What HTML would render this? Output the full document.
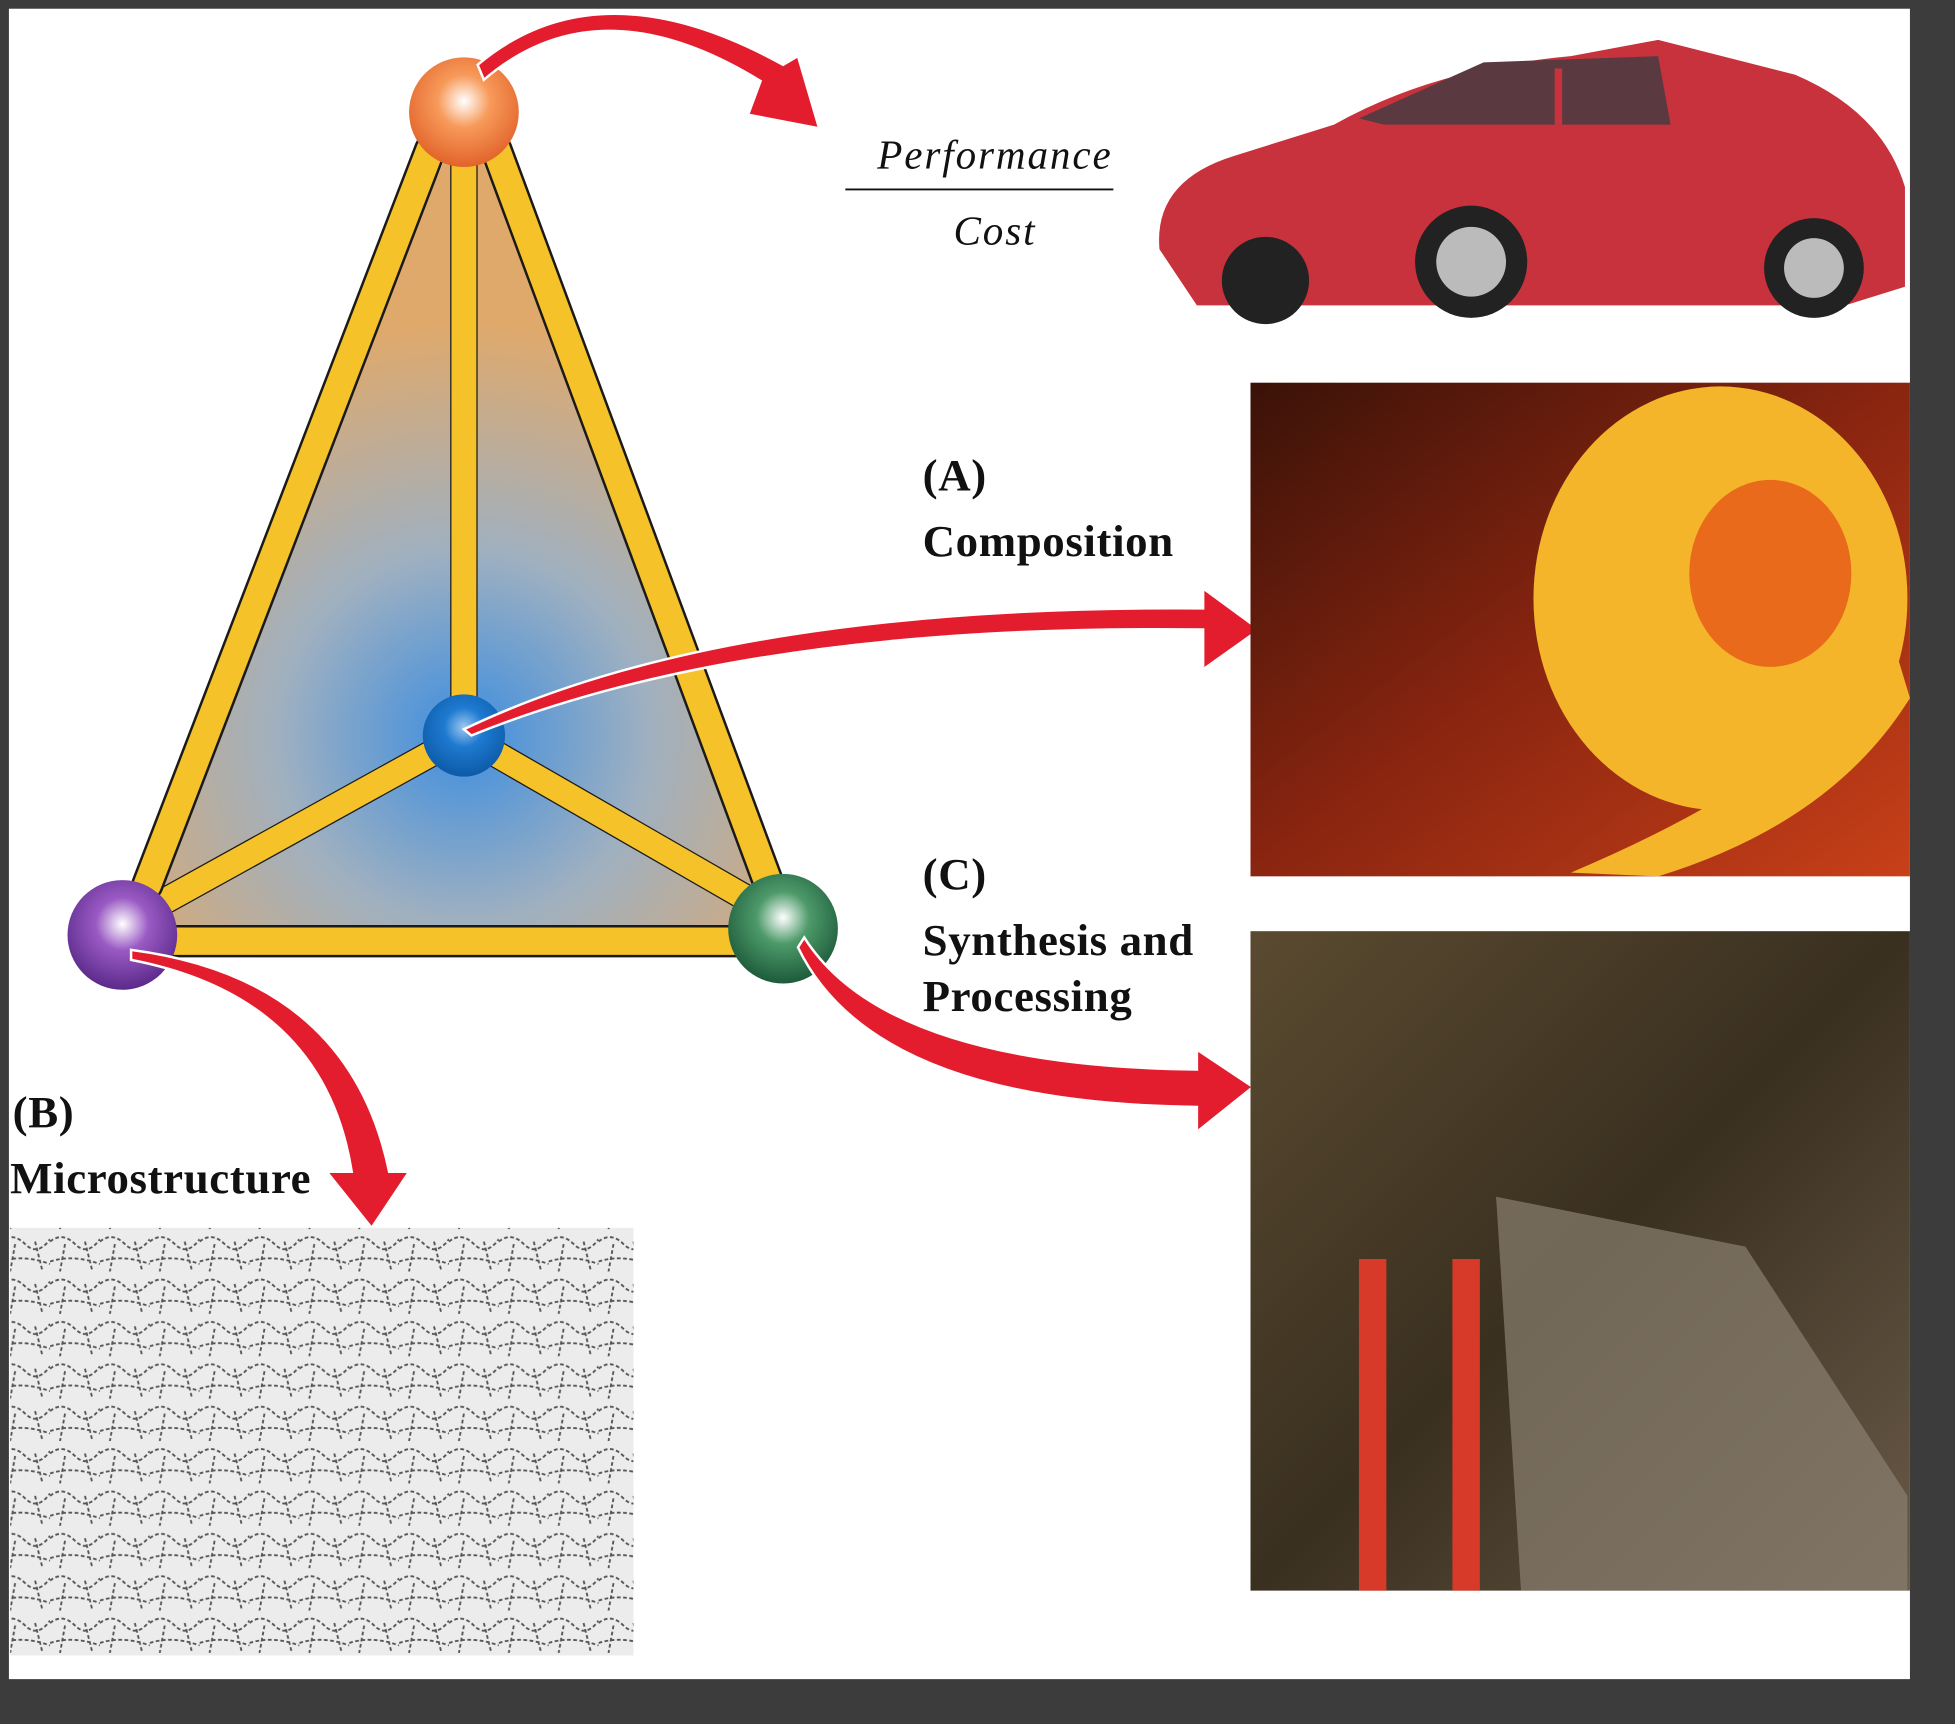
<!DOCTYPE html>
<html><head><meta charset="utf-8"><style>
html,body{margin:0;padding:0;background:#3c3c3c;}
svg{display:block}
</style></head><body>
<svg width="1955" height="1724" viewBox="0 0 1568 1383" xmlns="http://www.w3.org/2000/svg">
<defs>
<radialGradient id="tri" cx="372" cy="590" r="330" gradientUnits="userSpaceOnUse">
<stop offset="0" stop-color="#3d8ee0"/><stop offset="0.45" stop-color="#9fb0c0"/><stop offset="1" stop-color="#dfa96c"/></radialGradient>
<radialGradient id="org" cx="0.5" cy="0.4" r="0.6"><stop offset="0" stop-color="#fff"/><stop offset="0.4" stop-color="#f79a5a"/><stop offset="1" stop-color="#e2632a"/></radialGradient>
<radialGradient id="blu" cx="0.5" cy="0.4" r="0.6"><stop offset="0" stop-color="#9cc8f0"/><stop offset="0.4" stop-color="#1e7ad0"/><stop offset="1" stop-color="#0d5aa8"/></radialGradient>
<radialGradient id="pur" cx="0.5" cy="0.4" r="0.6"><stop offset="0" stop-color="#fff"/><stop offset="0.4" stop-color="#9a5ac4"/><stop offset="1" stop-color="#5a2a8a"/></radialGradient>
<radialGradient id="grn" cx="0.5" cy="0.4" r="0.6"><stop offset="0" stop-color="#fff"/><stop offset="0.4" stop-color="#4d9a6a"/><stop offset="1" stop-color="#1d5a3a"/></radialGradient>
<linearGradient id="coil" x1="0" y1="0" x2="1" y2="1"><stop offset="0" stop-color="#3a1208"/><stop offset="0.5" stop-color="#8a2510"/><stop offset="1" stop-color="#c84018"/></linearGradient>
<linearGradient id="fac" x1="0" y1="0" x2="1" y2="1"><stop offset="0" stop-color="#5a4a30"/><stop offset="0.5" stop-color="#3a3020"/><stop offset="1" stop-color="#6a5a48"/></linearGradient>
<pattern id="micro" width="40" height="34" patternUnits="userSpaceOnUse">
<rect width="40" height="34" fill="#ececec"/>
<path d="M0 10 Q10 2 20 12 T40 8 M12 12 L8 34 M28 10 L34 34 M0 26 Q18 20 40 28" stroke="#555" stroke-width="1.5" fill="none" stroke-dasharray="3 2"/>
</pattern>
</defs>
<rect x="0" y="0" width="1568" height="1383" fill="#3c3c3c"/>
<rect x="7" y="7" width="1525" height="1340" fill="#fff"/>

<polygon points="372,90 98,750 628,745" fill="url(#tri)"/>
<g stroke="#1a1a1a" stroke-width="22" stroke-linecap="round">
<line x1="372" y1="110" x2="372" y2="580"/>
<line x1="372" y1="590" x2="110" y2="735"/>
<line x1="372" y1="590" x2="615" y2="730"/>
</g>
<g stroke="#f6c229" stroke-width="20" stroke-linecap="round">
<line x1="372" y1="110" x2="372" y2="580"/>
<line x1="372" y1="590" x2="110" y2="735"/>
<line x1="372" y1="590" x2="615" y2="730"/>
</g>
<g stroke="#1a1a1a" stroke-width="26" stroke-linecap="round">
<line x1="345" y1="120" x2="118" y2="710"/>
<line x1="398" y1="120" x2="615" y2="705"/>
<line x1="140" y1="755" x2="590" y2="755"/>
</g>
<g stroke="#f6c229" stroke-width="22" stroke-linecap="round">
<line x1="345" y1="120" x2="118" y2="710"/>
<line x1="398" y1="120" x2="615" y2="705"/>
<line x1="140" y1="755" x2="590" y2="755"/>
</g>
<circle cx="372" cy="90" r="44" fill="url(#org)"/>
<circle cx="372" cy="590" r="33" fill="url(#blu)"/>
<circle cx="98" cy="750" r="44" fill="url(#pur)"/>
<circle cx="628" cy="745" r="44" fill="url(#grn)"/>

<g fill="#e31d2d" stroke="#fff" stroke-width="2">
<path d="M388 64 Q480 -15 610 65 L600 92 L657 103 L640 45 L628 52 Q480 -30 383 52 Z"/>
<path d="M378 590 Q600 500 965 505 L965 537 L1010 505 L965 472 L965 488 Q580 485 372 585 Z"/>
<path d="M105 770 Q260 800 282 940 L262 940 L298 985 L328 940 L312 940 Q280 785 105 762 Z"/>
<path d="M640 760 Q700 885 960 888 L960 908 L1005 872 L960 842 L960 858 Q710 855 645 752 Z"/>
</g>

<g>
<path d="M930 200 Q925 145 990 125 L1070 100 Q1150 55 1260 45 L1330 32 L1440 60 Q1510 90 1528 150 L1528 230 L1480 245 L960 245 Z" fill="#c8323c"/>
<path d="M1090 95 L1190 50 L1330 45 L1340 100 L1110 100 Z" fill="#5a3a40"/>
<path d="M1250 55 L1250 100" stroke="#c8323c" stroke-width="6"/>
<circle cx="1180" cy="210" r="45" fill="#222"/><circle cx="1180" cy="210" r="28" fill="#bbb"/>
<circle cx="1455" cy="215" r="40" fill="#222"/><circle cx="1455" cy="215" r="24" fill="#bbb"/>
<circle cx="1015" cy="225" r="35" fill="#222"/>
</g>
<rect x="1003" y="307" width="529" height="396" fill="url(#coil)"/>
<ellipse cx="1380" cy="480" rx="150" ry="170" fill="#f5b52a"/>
<ellipse cx="1420" cy="460" rx="65" ry="75" fill="#e86a1a"/>
<path d="M1260 700 Q1450 620 1520 520 L1532 560 Q1470 660 1330 703 Z" fill="#f5b52a"/>
<rect x="1003" y="747" width="529" height="529" fill="url(#fac)"/>
<rect x="1090" y="1010" width="22" height="266" fill="#d83a2a"/>
<rect x="1165" y="1010" width="22" height="266" fill="#d83a2a"/>
<path d="M1200 960 L1400 1000 L1530 1200 L1530 1276 L1220 1276 Z" fill="#8a8070" opacity="0.7"/>
<rect x="8" y="985" width="500" height="343" fill="url(#micro)"/>

<g font-family="Liberation Serif, serif" fill="#111">
<text x="798" y="135" font-size="33" font-style="italic" text-anchor="middle" letter-spacing="1.5">Performance</text>
<line x1="678" y1="152" x2="893" y2="152" stroke="#111" stroke-width="1.5"/>
<text x="798" y="196" font-size="33" font-style="italic" text-anchor="middle" letter-spacing="1.5">Cost</text>
<g font-size="36" font-weight="bold" letter-spacing="0.5">
<text x="740" y="393">(A)</text>
<text x="740" y="446">Composition</text>
<text x="740" y="713">(C)</text>
<text x="740" y="766">Synthesis and</text>
<text x="740" y="811">Processing</text>
<text x="10" y="904">(B)</text>
<text x="8" y="957">Microstructure</text>
</g>
</g>
</svg>
</body></html>
